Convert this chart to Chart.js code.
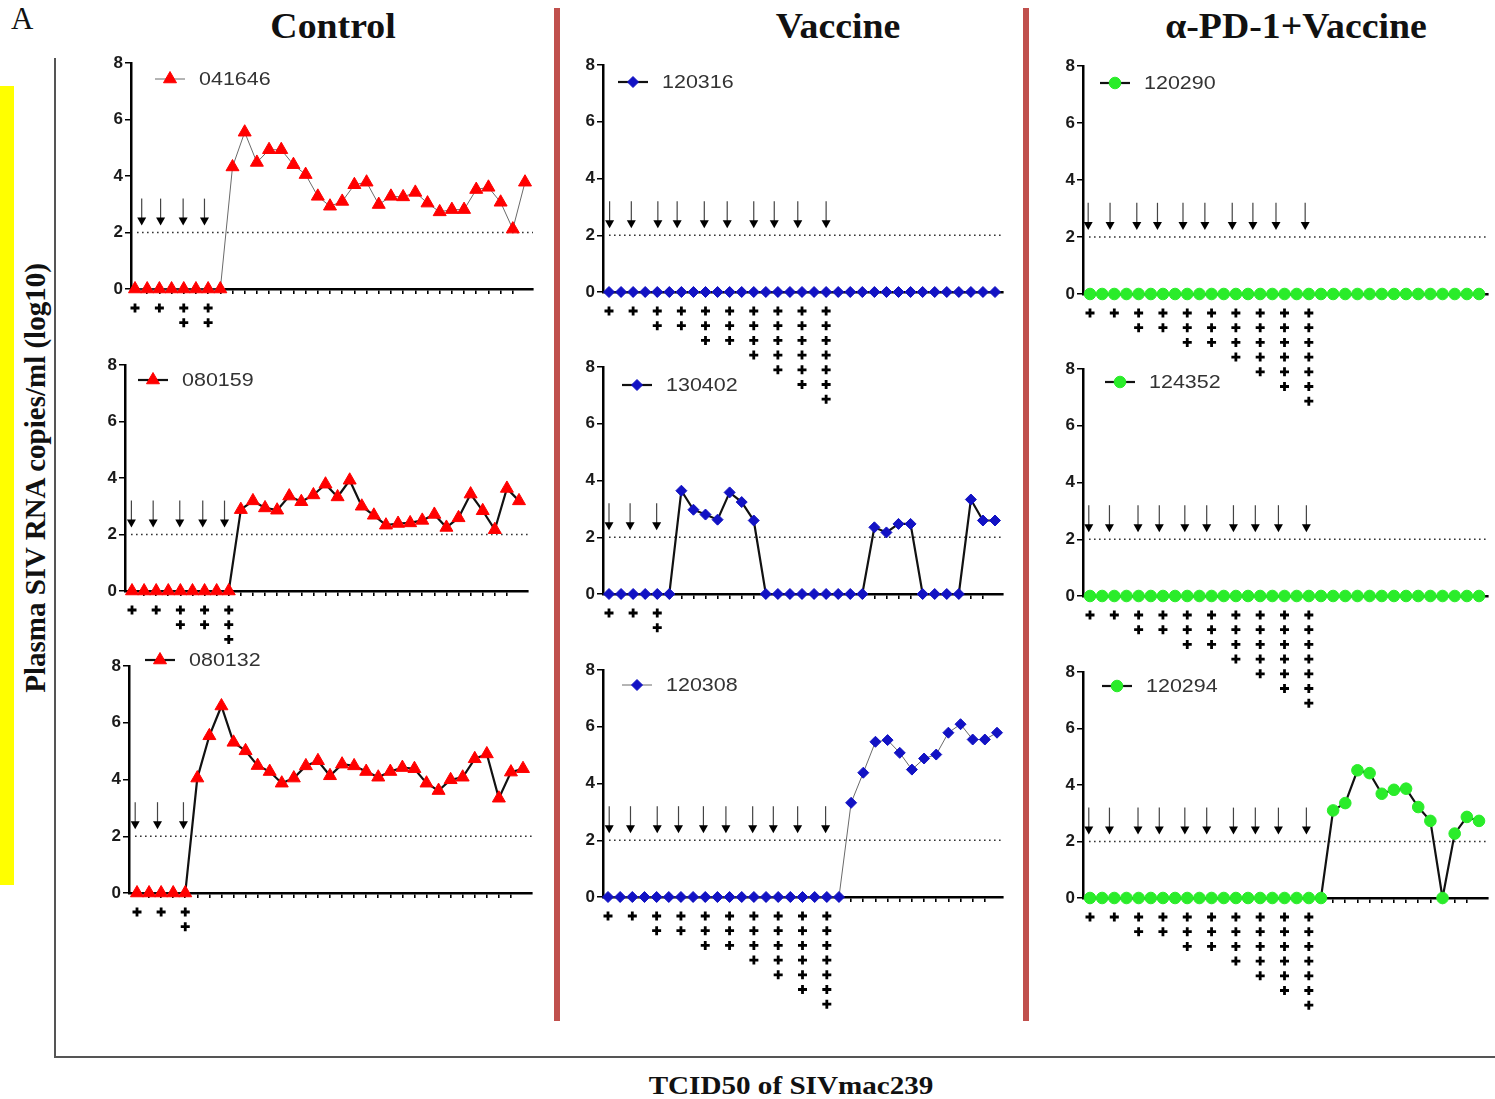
<!DOCTYPE html>
<html>
<head>
<meta charset="utf-8">
<script src="https://cdn.jsdelivr.net/npm/chart.js@4.4.0/dist/chart.umd.min.js"></script>
<style>
  body { margin: 0; background: #fff; }
  #fig { position: relative; width: 1495px; height: 1099px; overflow: hidden;
         font-family: 'Liberation Serif', 'Times New Roman', serif; color: #111; }
  #fig canvas { position: absolute; }
  .title { position: absolute; top: 7px; width: 400px; text-align: center; font-weight: bold;
           font-size: 35px; line-height: 40px; transform: scaleX(1.08); }
  .sep { position: absolute; top: 8px; width: 6px; height: 1013px; background: #c0504d; }
</style>
</head>
<body>
<div id="fig">
  <div style="position:absolute;left:0;top:86px;width:14px;height:799px;background:#ffff00"></div>
  <div style="position:absolute;left:11px;top:2px;font-size:31px;line-height:34px">A</div>
  <div class="title" style="left:133px">Control</div>
  <div class="title" style="left:638px">Vaccine</div>
  <div class="title" style="left:1096px">α-PD-1+Vaccine</div>
  <div class="sep" style="left:554px"></div>
  <div class="sep" style="left:1023px"></div>
  <div style="position:absolute;left:54px;top:58px;width:2px;height:1000px;background:#555"></div>
  <div style="position:absolute;left:54px;top:1056px;width:1441px;height:2px;background:#555"></div>
  <div style="position:absolute;left:35px;top:478px;transform:translate(-50%,-50%) rotate(-90deg);white-space:nowrap;font-weight:bold;font-size:29px">Plasma SIV RNA copies/ml (log10)</div>
  <div style="position:absolute;left:791px;top:1086px;transform:translate(-50%,-50%) scaleX(1.12);white-space:nowrap;font-weight:bold;font-size:26px">TCID50 of SIVmac239</div>
</div>
<script>
// --- data (log10 RNA copies/ml, one value per sampling time point) ---
const Y_TICKS = [0, 2, 4, 6, 8];
const DETECTION_LIMIT = 2;
const CHALLENGE_X = [0, 2, 4, 6, 8, 10, 12, 14, 16, 18];

const C1_041646 = [0, 0, 0, 0, 0, 0, 0, 0, 4.32, 5.55, 4.48, 4.93, 4.93, 4.4, 4.05, 3.28, 2.93, 3.1, 3.69, 3.78, 2.99, 3.28, 3.26, 3.42, 3.04, 2.73, 2.81, 2.81, 3.52, 3.6, 3.07, 2.12, 3.78];
const C2_080159 = [0, 0, 0, 0, 0, 0, 0, 0, 0, 2.88, 3.19, 2.94, 2.86, 3.36, 3.16, 3.4, 3.78, 3.33, 3.92, 3.0, 2.68, 2.33, 2.39, 2.41, 2.5, 2.71, 2.25, 2.59, 3.43, 2.84, 2.17, 3.63, 3.19];
const C3_080132 = [0, 0, 0, 0, 0, 4.05, 5.54, 6.59, 5.31, 5.01, 4.49, 4.28, 3.87, 4.05, 4.48, 4.66, 4.13, 4.54, 4.48, 4.28, 4.08, 4.28, 4.42, 4.38, 3.87, 3.61, 3.99, 4.08, 4.73, 4.9, 3.34, 4.26, 4.38];
const V1_120316 = [0, 0, 0, 0, 0, 0, 0, 0, 0, 0, 0, 0, 0, 0, 0, 0, 0, 0, 0, 0, 0, 0, 0, 0, 0, 0, 0, 0, 0, 0, 0, 0, 0];
const V2_130402 = [0, 0, 0, 0, 0, 0, 3.64, 2.97, 2.8, 2.62, 3.58, 3.24, 2.59, 0, 0, 0, 0, 0, 0, 0, 0, 0, 2.35, 2.17, 2.47, 2.47, 0, 0, 0, 0, 3.33, 2.59, 2.59];
const V3_120308 = [0, 0, 0, 0, 0, 0, 0, 0, 0, 0, 0, 0, 0, 0, 0, 0, 0, 0, 0, 0, 3.32, 4.38, 5.47, 5.53, 5.08, 4.49, 4.88, 5.02, 5.79, 6.09, 5.55, 5.55, 5.79];
const G1_120290 = [0, 0, 0, 0, 0, 0, 0, 0, 0, 0, 0, 0, 0, 0, 0, 0, 0, 0, 0, 0, 0, 0, 0, 0, 0, 0, 0, 0, 0, 0, 0, 0, 0];
const G2_124352 = [0, 0, 0, 0, 0, 0, 0, 0, 0, 0, 0, 0, 0, 0, 0, 0, 0, 0, 0, 0, 0, 0, 0, 0, 0, 0, 0, 0, 0, 0, 0, 0, 0];
const G3_120294 = [0, 0, 0, 0, 0, 0, 0, 0, 0, 0, 0, 0, 0, 0, 0, 0, 0, 0, 0, 0, 3.1, 3.36, 4.52, 4.42, 3.69, 3.83, 3.87, 3.22, 2.73, 0, 2.28, 2.87, 2.73];

// challenge doses: number of "+" per challenge
const DOSES_C1 = [1, 1, 2, 2];
const DOSES_C2 = [1, 1, 2, 2, 3];
const DOSES_C3 = [1, 1, 2];
const DOSES_FULL = [1, 1, 2, 2, 3, 3, 4, 5, 6, 7];
const DOSES_V2 = [1, 1, 2];

// where the challenge arrows sit (in time point units)
const ARROWS_C1 = [0.55, 2.1, 3.95, 5.7];
const ARROWS_C2 = [-0.05, 1.75, 3.95, 5.85, 7.65];
const ARROWS_C3 = [-0.15, 1.7, 3.85];
const ARROWS_V1 = [0.05, 1.85, 4.05, 5.65, 7.9, 9.8, 12.0, 13.7, 15.65, 18.0];
const ARROWS_V2 = [0.0, 1.75, 3.95];
const ARROWS_V3 = [0.1, 1.85, 4.05, 5.8, 7.85, 9.7, 11.9, 13.6, 15.6, 17.9];
const ARROWS_G1 = [-0.15, 1.65, 3.85, 5.55, 7.65, 9.45, 11.7, 13.4, 15.3, 17.7];
const ARROWS_G2 = [-0.1, 1.6, 3.95, 5.7, 7.8, 9.6, 11.8, 13.6, 15.5, 17.8];
const ARROWS_G3 = [-0.1, 1.6, 3.95, 5.7, 7.8, 9.6, 11.8, 13.6, 15.5, 17.8];

// --- look ---
const COLORS = { red: '#ff0000', blue: '#1212c4', green: '#2aec2a' };
const MARK = {
  red: { pointStyle: 'triangle', radius: 7.5 },
  blue: { pointStyle: 'rectRot', radius: 5.5 },
  green: { pointStyle: 'circle', radius: 5.8 }
};

// panel boxes in page pixels: y axis x, axis end, first/last point x, y of 8 and 0
const PANELS = [
  { label: '041646', values: C1_041646, col: 'red', thin: true,  doses: DOSES_C1, arrows: ARROWS_C1,
    box: { axisX: 131, axisEnd: 533, first: 135, last: 525, top: 63, bottom: 289 }, leg: { dx: 24, dy: 16 } },
  { label: '080159', values: C2_080159, col: 'red', thin: false, doses: DOSES_C2, arrows: ARROWS_C2,
    box: { axisX: 125, axisEnd: 528, first: 132, last: 519, top: 365, bottom: 591 }, leg: { dx: 13, dy: 15 } },
  { label: '080132', values: C3_080132, col: 'red', thin: false, doses: DOSES_C3, arrows: ARROWS_C3,
    box: { axisX: 129, axisEnd: 532, first: 137, last: 523, top: 666, bottom: 893 }, leg: { dx: 16, dy: -6 } },
  { label: '120316', values: V1_120316, col: 'blue', thin: false, doses: DOSES_FULL, arrows: ARROWS_V1,
    box: { axisX: 603, axisEnd: 1003, first: 609, last: 995, top: 65, bottom: 292 }, leg: { dx: 15, dy: 17 } },
  { label: '130402', values: V2_130402, col: 'blue', thin: false, doses: DOSES_V2, arrows: ARROWS_V2,
    box: { axisX: 603, axisEnd: 1003, first: 609, last: 995, top: 367, bottom: 594 }, leg: { dx: 19, dy: 18 } },
  { label: '120308', values: V3_120308, col: 'blue', thin: true,  doses: DOSES_FULL, arrows: ARROWS_V3,
    box: { axisX: 603, axisEnd: 1003, first: 608, last: 997, top: 670, bottom: 897 }, leg: { dx: 19, dy: 15 } },
  { label: '120290', values: G1_120290, col: 'green', thin: false, doses: DOSES_FULL, arrows: ARROWS_G1,
    box: { axisX: 1083, axisEnd: 1488, first: 1090, last: 1479, top: 66, bottom: 294 }, leg: { dx: 17, dy: 17 } },
  { label: '124352', values: G2_124352, col: 'green', thin: false, doses: DOSES_FULL, arrows: ARROWS_G2,
    box: { axisX: 1083, axisEnd: 1488, first: 1090, last: 1479, top: 369, bottom: 596 }, leg: { dx: 22, dy: 13 } },
  { label: '120294', values: G3_120294, col: 'green', thin: false, doses: DOSES_FULL, arrows: ARROWS_G3,
    box: { axisX: 1083, axisEnd: 1488, first: 1090, last: 1479, top: 672, bottom: 898 }, leg: { dx: 19, dy: 14 } }
];

const PAD_L = 36, PAD_T = 24, PAD_R = 14, PAD_B = 130, X_H = 6;

function drawMarker(ctx, style, r, x, y, color) {
  ctx.save();
  ctx.fillStyle = color; ctx.strokeStyle = color; ctx.lineWidth = 1;
  if (Chart.helpers && Chart.helpers.drawPoint) {
    Chart.helpers.drawPoint(ctx, { pointStyle: style, radius: r, rotation: 0, borderWidth: 1 }, x, y);
  }
  ctx.restore();
}

// Helper: draws detection limit, challenge arrows, "+" doses and the legend
const challengePlugin = {
  id: 'challenge',
  beforeDatasetsDraw(chart, args, o) {
    const { ctx, chartArea, scales: { y } } = chart;
    const yy = y.getPixelForValue(DETECTION_LIMIT);
    ctx.save();
    ctx.setLineDash([1.6, 3.4]);
    ctx.strokeStyle = '#333'; ctx.lineWidth = 1.5;
    ctx.beginPath(); ctx.moveTo(chartArea.left + 6, yy); ctx.lineTo(chartArea.right, yy); ctx.stroke();
    ctx.restore();
  },
  afterDatasetsDraw(chart, args, o) {
    const { ctx, chartArea, scales: { x, y } } = chart;
    ctx.save();
    // arrows
    const top = y.getPixelForValue(3.2), tip = y.getPixelForValue(2.25);
    o.arrows.forEach(a => {
      const px = x.getPixelForValue(a);
      ctx.strokeStyle = '#444'; ctx.lineWidth = 1.2;
      ctx.beginPath(); ctx.moveTo(px, top); ctx.lineTo(px, tip - 7); ctx.stroke();
      ctx.fillStyle = '#000';
      ctx.beginPath(); ctx.moveTo(px - 4.5, tip - 8); ctx.lineTo(px + 4.5, tip - 8); ctx.lineTo(px, tip); ctx.closePath(); ctx.fill();
    });
    // plus signs
    ctx.strokeStyle = '#000'; ctx.lineWidth = 2.8;
    o.doses.forEach((n, k) => {
      const px = x.getPixelForValue(CHALLENGE_X[k]);
      for (let r = 0; r < n; r++) {
        const cy = chartArea.bottom + 19 + r * 14.7;
        ctx.beginPath();
        ctx.moveTo(px - 4.5, cy); ctx.lineTo(px + 4.5, cy);
        ctx.moveTo(px, cy - 4.5); ctx.lineTo(px, cy + 4.5);
        ctx.stroke();
      }
    });
    ctx.restore();
  },
  afterDraw(chart, args, o) {
    const { ctx, chartArea } = chart;
    const ds = chart.data.datasets[0];
    const lx = chartArea.left + o.leg.dx, ly = chartArea.top + o.leg.dy;
    ctx.save();
    ctx.strokeStyle = ds.borderColor; ctx.lineWidth = ds.borderWidth;
    ctx.beginPath(); ctx.moveTo(lx, ly); ctx.lineTo(lx + 30, ly); ctx.stroke();
    drawMarker(ctx, ds.pointStyle, ds.pointRadius, lx + 15, ly, ds.pointBackgroundColor);
    ctx.translate(lx + 44, ly);
    ctx.scale(1.13, 1);
    ctx.fillStyle = '#333';
    ctx.font = '19px "Liberation Sans", Arial, sans-serif';
    ctx.textBaseline = 'middle';
    ctx.fillText(ds.label, 0, 1);
    ctx.restore();
  }
};

const fig = document.getElementById('fig');

PANELS.forEach(p => {
  const b = p.box;
  const w = (b.axisEnd - b.axisX) + PAD_L + PAD_R;
  const h = (b.bottom - b.top) + PAD_T + PAD_B;
  const cv = document.createElement('canvas');
  cv.width = w; cv.height = h;
  cv.style.left = (b.axisX - PAD_L) + 'px';
  cv.style.top = (b.top - PAD_T) + 'px';
  cv.style.width = w + 'px'; cv.style.height = h + 'px';
  fig.appendChild(cv);

  const step = (b.last - b.first) / (p.values.length - 1);
  const xMin = -(b.first - b.axisX) / step;
  const xMax = (p.values.length - 1) + (b.axisEnd - b.last) / step;
  const mk = MARK[p.col];

  new Chart(cv, {
    type: 'line',
    data: {
      datasets: [{
        label: p.label,
        data: p.values.map((v, i) => ({ x: i, y: v })),
        borderColor: p.thin ? '#6a6a6a' : '#111',
        borderWidth: p.thin ? 1 : 2.2,
        pointStyle: mk.pointStyle,
        pointRadius: mk.radius,
        pointBackgroundColor: COLORS[p.col],
        pointBorderColor: COLORS[p.col],
        pointBorderWidth: 1,
        tension: 0,
        clip: false
      }]
    },
    options: {
      responsive: false,
      animation: false,
      devicePixelRatio: 1,
      layout: { padding: { top: PAD_T, right: PAD_R, bottom: PAD_B - X_H, left: 0 } },
      plugins: {
        legend: { display: false },
        tooltip: { enabled: false },
        challenge: { arrows: p.arrows, doses: p.doses, leg: p.leg }
      },
      scales: {
        x: {
          type: 'linear', min: xMin, max: xMax,
          ticks: { display: false, stepSize: 1 },
          afterBuildTicks: s => { s.ticks = s.ticks.filter(t => Number.isInteger(t.value)); },
          afterFit: s => { s.height = X_H; },
          grid: { drawOnChartArea: false, drawTicks: true, tickLength: 5, color: '#000', lineWidth: 1.6 },
          border: { color: '#000', width: 2.5 }
        },
        y: {
          min: 0, max: 8,
          afterBuildTicks: s => { s.ticks = Y_TICKS.map(v => ({ value: v })); },
          afterFit: s => { s.width = PAD_L; },
          ticks: { color: '#1a1a1a', padding: 2, font: { family: '"Liberation Sans", Arial, sans-serif', weight: 'bold', size: 17 } },
          grid: { drawOnChartArea: false, drawTicks: true, tickLength: 6, color: '#000', lineWidth: 1.5 },
          border: { color: '#000', width: 2.5 }
        }
      }
    },
    plugins: [challengePlugin]
  });
});
</script>
</body>
</html>
